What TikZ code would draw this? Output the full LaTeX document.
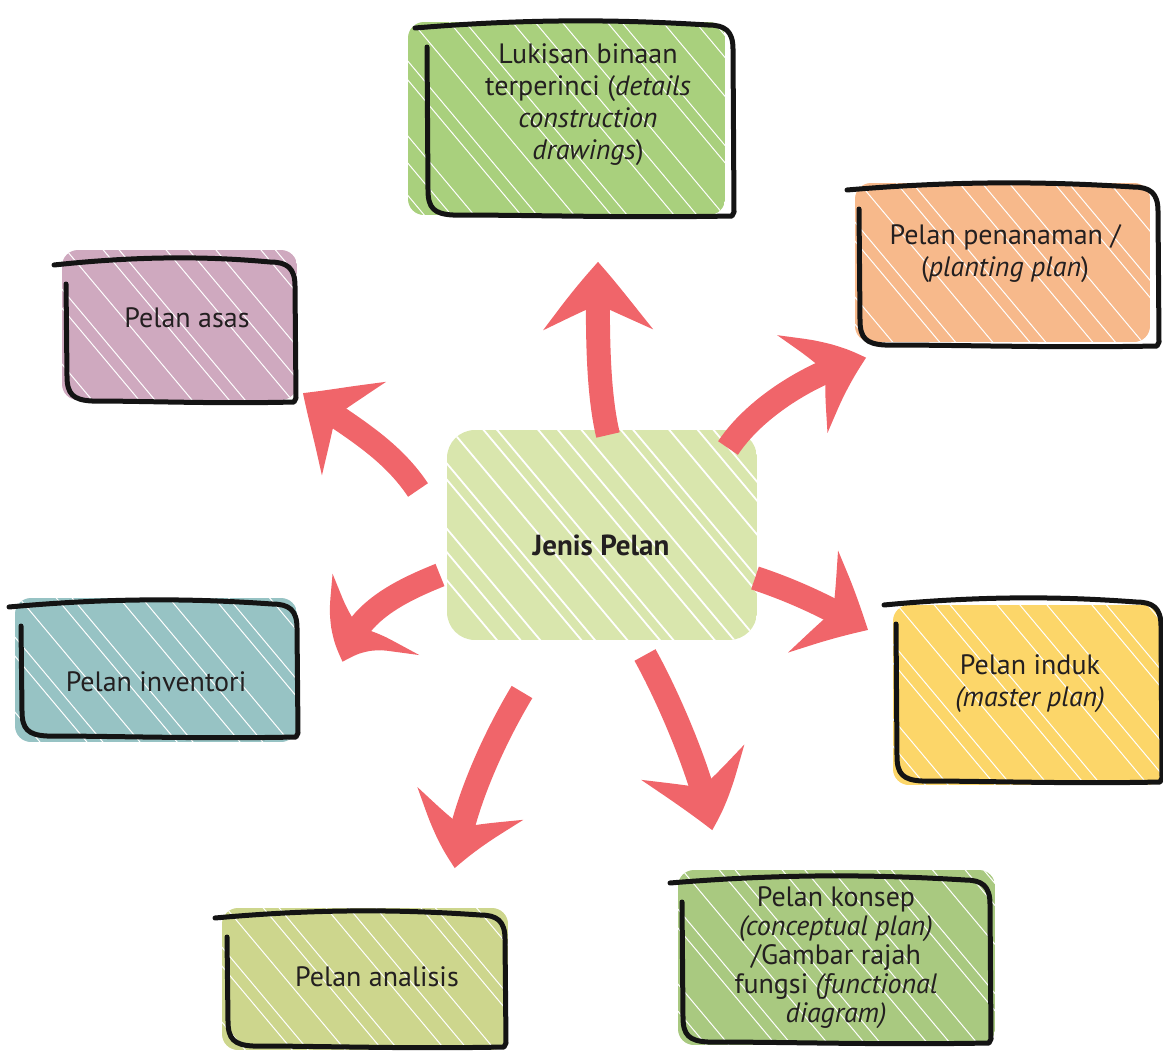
\documentclass[tikz,border=0pt]{standalone}
\usepackage{fontspec}
\setmainfont{PT Sans}
\usetikzlibrary{arrows.meta,bending}
\definecolor{txt}{RGB}{35,31,32}
\definecolor{arrowred}{RGB}{240,101,106}
\definecolor{cluk}{RGB}{169,208,125}
\definecolor{casas}{RGB}{207,169,191}
\definecolor{cpen}{RGB}{247,185,139}
\definecolor{cinv}{RGB}{151,195,196}
\definecolor{cind}{RGB}{252,214,105}
\definecolor{cana}{RGB}{205,214,141}
\definecolor{ckon}{RGB}{169,201,128}
\definecolor{ccen}{RGB}{217,230,173}
\tikzset{
  frm/.style={line width=5pt, line cap=round, line join=round, draw=black!92},
  lbl/.style={align=center, inner sep=0pt, text=txt, font=\fontsize{28}{32}\selectfont},
  arr/.style={draw=arrowred, line width=24pt, -{Stealth[length=62pt,width=112pt,inset=22pt,bend]}},
  gap/.style={white, line width=1pt}
}
% scribbled fill: L T R B colour
\newcommand\scribfill[5]{%
  \begin{scope}
    \clip[rounded corners=16pt] (#1,#2) rectangle (#3,#4);
    \fill[#5] (#1,#2) rectangle (#3,#4);
    \foreach \i in {-9,...,13} \draw[gap] ({#1+\i*31+9*sin(\i*137)},{#2-5}) -- ++(260,310);
  \end{scope}}
% sketched frame: L T R B
\newcommand\sframe[4]{%
  \draw[frm] ({#1-13},{#2+3}) .. controls ({#1+0.35*(#3-#1)},{#2-7}) and ({#3-0.35*(#3-#1)},{#2-5}) .. ({#3-25},{#2})
    .. controls ({#3-8},{#2}) and ({#3},{#2+6}) .. ({#3},{#2+24}) -- ({#3+1},{#4-4}) -- ({#3-1},{#4})
    .. controls ({#3-0.35*(#3-#1)},{#4+2}) and ({#1+0.35*(#3-#1)},{#4-1}) .. ({#1+25},{#4-1})
    .. controls ({#1+6},{#4-2}) and ({#1},{#4-8}) .. ({#1},{#4-26}) -- ({#1-1},{#2+22});}
\begin{document}
\begin{tikzpicture}[x=1pt,y=-1pt]
\useasboundingbox (0,0) rectangle (1163,1052);
% centre
\begin{scope}
  \clip[rounded corners=28pt] (447,430) rectangle (757,640);
  \fill[ccen] (447,430) rectangle (757,640);
  \foreach \i in {-10,...,16} \draw[white, line width=1.8pt] ({447+\i*27+8*sin(\i*137)},425) -- ++(260,310);
\end{scope}
\node[lbl, font=\fontsize{29}{32}\selectfont\bfseries] (c) at (601,545) {Jenis Pelan};
% boxes
\scribfill{408}{22}{725}{215}{cluk}
\sframe{428}{25}{733}{216}
\node[lbl] (luk) at (588,105) {Lukisan binaan\\terperinci (\textit{details}\\\textit{construction}\\\textit{drawings})};

\scribfill{62}{250}{297}{400}{casas}
\sframe{67}{262}{295}{402}
\node[lbl] (asas) at (187,318) {Pelan asas};

\scribfill{855}{183}{1150}{342}{cpen}
\sframe{860}{187}{1158}{346}
\node[lbl] (pen) at (1005,254) {Pelan penanaman /\\(\textit{planting plan})};

\scribfill{15}{598}{297}{742}{cinv}
\sframe{22}{604}{297}{737}
\node[lbl] (inv) at (156,682) {Pelan inventori};

\scribfill{893}{605}{1163}{785}{cind}
\sframe{897}{602}{1161}{782}
\node[lbl] (ind) at (1030,684) {Pelan induk\\\textit{(master plan)}};

\scribfill{222}{908}{508}{1050}{cana}
\sframe{228}{915}{505}{1047}
\node[lbl] (ana) at (377,977) {Pelan analisis};

\scribfill{678}{870}{995}{1045}{ckon}
\sframe{683}{880}{990}{1043}
\node[lbl, font=\fontsize{28}{29}\selectfont] (kon) at (836,958) {Pelan konsep\\\textit{(conceptual plan)}\\/Gambar rajah\\fungsi \textit{(functional}\\\textit{diagram)}};
% arrows
\draw[arr] ([shift={(7,-110)}]c.center) .. controls +(-12,-50) and +(0,50) .. ([shift={(10,157)}]luk.center);
\draw[arr] ([shift={(-183,-55)}]c.center) .. controls +(-30,-45) and +(40,30) .. ([shift={(116,75)}]asas.center);
\draw[arr] ([shift={(127,-97)}]c.center) .. controls +(30,-45) and +(-45,10) .. ([shift={(-139,104)}]pen.center);
\draw[arr] ([shift={(-161,30)}]c.center) .. controls +(-50,20) and +(10,-45) .. ([shift={(187,-20)}]inv.center);
\draw[arr] ([shift={(154,33)}]c.center) .. controls +(45,15) and +(-35,-20) .. ([shift={(-162,-54)}]ind.center);
\draw[arr] ([shift={(-79,147)}]c.center) .. controls +(-30,50) and +(5,-55) .. ([shift={(78,-109)}]ana.center);
\draw[arr] ([shift={(44,110)}]c.center) .. controls +(25,45) and +(-8,-50) .. ([shift={(-124,-128)}]kon.center);
\end{tikzpicture}
\end{document}
